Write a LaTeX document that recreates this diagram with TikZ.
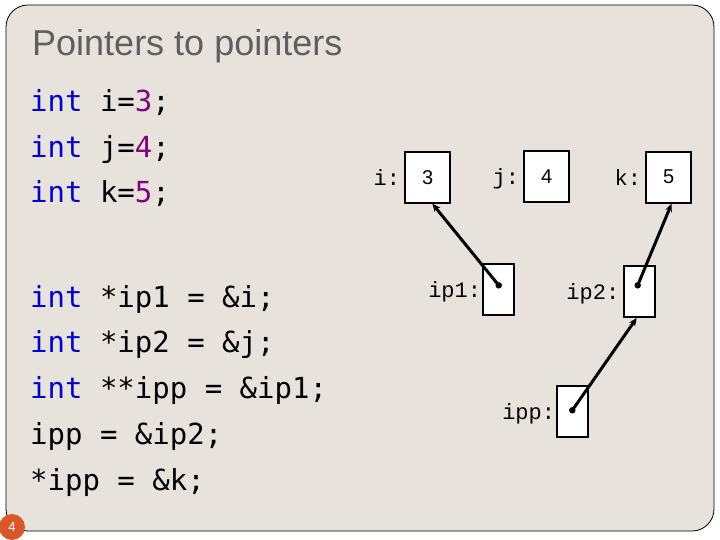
\documentclass[tikz,border=0pt]{standalone}
\usepackage{fontspec}
\setmainfont{Liberation Sans}
\newfontfamily\codefont{DejaVu Sans Mono}
\newfontfamily\boxfont{Liberation Mono}
\usetikzlibrary{arrows.meta,positioning}
\definecolor{slidebg}{HTML}{E7E3DC}
\definecolor{kwblue}{HTML}{0000C8}
\definecolor{numpurple}{HTML}{800080}
\definecolor{titlegray}{HTML}{5F5F5F}
\definecolor{badge}{HTML}{D9572B}
\newcommand{\kw}[1]{\textcolor{kwblue}{#1}}
\newcommand{\num}[1]{\textcolor{numpurple}{#1}}

\begin{document}
\begin{tikzpicture}[x=1pt, y=-1pt,
  codeline/.style={anchor=base west, inner sep=0pt, font=\codefont\fontsize{29}{29}\selectfont},
  cell/.style={draw, line width=2pt, fill=white, minimum width=45pt, minimum height=51pt,
    inner sep=0pt, font=\fontsize{20}{20}\selectfont},
  ptrcell/.style={cell, minimum width=31pt},
  lbl/.style={inner sep=0pt, text depth=0pt, font=\boxfont\fontsize{22}{22}\selectfont},
  dot/.style={circle, fill=black, inner sep=0pt, minimum size=6.5pt},
  ptr/.style={line width=3pt, -{Stealth[length=8pt,width=7pt]}}]
  \useasboundingbox (0,0) rectangle (720,540);
  \filldraw[fill=slidebg, draw=black, line width=0.8pt, rounded corners=22pt] (6,5) rectangle (714,531);

  \node[anchor=base west, inner sep=0pt, text=titlegray, font=\fontsize{36}{36}\selectfont] (title) at (32,56) {Pointers to pointers};

  % declarations
  \node[codeline] (c1) at (30,112) {\kw{int} i=\num{3};};
  \node[codeline] (c2) at (30,157.5) {\kw{int} j=\num{4};};
  \node[codeline] (c3) at (30,203) {\kw{int} k=\num{5};};
  \node[codeline] (c4) at (30,307) {\kw{int} *ip1 = \&i;};
  \node[codeline] (c5) at (30,352.5) {\kw{int} *ip2 = \&j;};
  \node[codeline] (c6) at (30,398) {\kw{int} **ipp = \&ip1;};
  \node[codeline] (c7) at (30,444) {ipp = \&ip2;};
  \node[codeline] (c8) at (30,490) {*ipp = \&k;};

  % memory cells
  \node[cell] (ibox) at (427.7,177.2) {3};
  \node[cell] (jbox) at (546.8,176.2) {4};
  \node[cell] (kbox) at (668.8,177.2) {5};
  \node[ptrcell] (ip1box) at (498.8,289.7) {};
  \node[ptrcell] (ip2box) at (639,291.5) {};
  \node[ptrcell] (ippbox) at (572.8,411.5) {};

  \node[lbl, left=4pt of ibox] (ilbl) {i:};
  \node[lbl, left=4pt of jbox] (jlbl) {j:};
  \node[lbl, left=4pt of kbox] (klbl) {k:};
  \node[lbl, left=1pt of ip1box] (ip1lbl) {ip1:};
  \node[lbl, left=3pt of ip2box] (ip2lbl) {ip2:};
  \node[lbl, left=1pt of ippbox] (ipplbl) {ipp:};

  % pointers
  \node[dot] (ip1dot) at (498.7,285.3) {};
  \node[dot] (ip2dot) at (637.7,285.3) {};
  \node[dot] (ippdot) at (572.3,410.3) {};
  \draw[ptr] (ip1dot.center) -- (ibox.-80);
  \draw[ptr] (ip2dot.center) -- (kbox.-84);
  \draw[ptr] (ippdot.center) -- (ip2box.-95);

  \node[circle, fill=badge, minimum size=26pt, inner sep=0pt, text=white,
    font=\fontsize{13}{13}\selectfont] (slideno) at (12,527) {4};
\end{tikzpicture}
\end{document}
